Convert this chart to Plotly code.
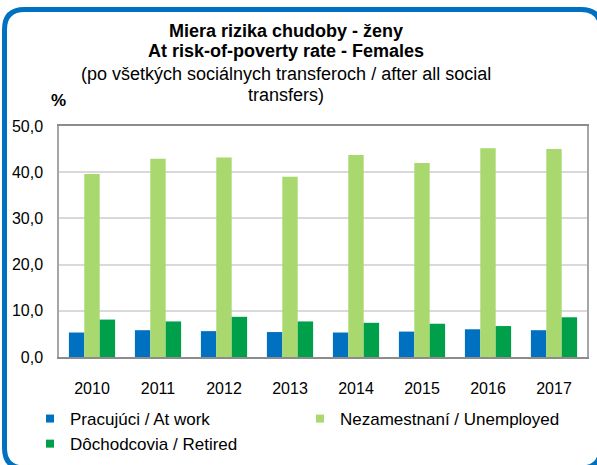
import plotly.graph_objects as go

years = ["2010", "2011", "2012", "2013", "2014", "2015", "2016", "2017"]
at_work = [5.3, 5.8, 5.6, 5.4, 5.3, 5.5, 6.0, 5.8]
unemployed = [39.6, 42.9, 43.2, 39.0, 43.7, 42.0, 45.2, 45.0]
retired = [8.1, 7.7, 8.7, 7.7, 7.4, 7.2, 6.7, 8.6]

names = ["Pracujúci / At work", "Nezamestnaní / Unemployed", "Dôchodcovia / Retired"]
colors = ["#0070C0", "#A9D86F", "#00A04A"]
series = [at_work, unemployed, retired]

W, H = 597, 465
L, R, T, B = 59, 10, 126, 108
PW, PH = W - L - R, H - T - B

def px(X):
    return (X - L) / PW

def py(Y):
    return (H - B - Y) / PH

FONT = "Tahoma, 'Liberation Sans', Arial, sans-serif"

fig = go.Figure()
for name, col, vals in zip(names, colors, series):
    fig.add_trace(go.Bar(x=years, y=vals, name=name, marker=dict(color=col, line=dict(width=0)),
                         showlegend=False))
    fig.add_trace(go.Scatter(x=[None], y=[None], mode="markers", name=name,
                             marker=dict(symbol="square", size=8, color=col)))

# rounded frame (pixel -> paper)
x0, y0, x1, y1, r = 4.5, 9.5, 601, 468, 20
path = (f"M {px(x0)},{py(y0 + r)} Q {px(x0)},{py(y0)} {px(x0 + r)},{py(y0)} "
        f"L {px(x1 - r)},{py(y0)} Q {px(x1)},{py(y0)} {px(x1)},{py(y0 + r)} "
        f"L {px(x1)},{py(y1 - r)} Q {px(x1)},{py(y1)} {px(x1 - r)},{py(y1)} "
        f"L {px(x0 + r)},{py(y1)} Q {px(x0)},{py(y1)} {px(x0)},{py(y1 - r)} Z")
fig.add_shape(type="path", path=path, xref="paper", yref="paper",
              line=dict(color="#0070C0", width=5), layer="above")

cx = px(286)
titles = [
    ("<b>Miera rizika chudoby - ženy</b>", 31),
    ("<b>At risk-of-poverty rate - Females</b>", 51),
    ("(po všetkých sociálnych transferoch / after all social", 74),
    ("transfers)", 95),
]
for txt, yy in titles:
    fig.add_annotation(text=txt, x=cx, y=py(yy), xref="paper", yref="paper",
                       xanchor="center", yanchor="middle", showarrow=False,
                       font=dict(size=18, color="#000000", family=FONT))
fig.add_annotation(text="<b>%</b>", x=px(58), y=py(100), xref="paper", yref="paper",
                   xanchor="center", yanchor="middle", showarrow=False,
                   font=dict(size=17, color="#000000", family=FONT))

fig.update_layout(
    width=W, height=H,
    margin=dict(l=L, r=R, t=T, b=B, autoexpand=False),
    paper_bgcolor="white", plot_bgcolor="white",
    separators=", ",
    bargap=0.30, bargroupgap=0,
    font=dict(family=FONT, size=16, color="#000000"),
    showlegend=True,
    legend=dict(orientation="h", x=px(30), y=py(401), xanchor="left", yanchor="top",
                entrywidth=225, entrywidthmode="pixels", tracegroupgap=0,
                font=dict(size=17, family=FONT, color="#000000"),
                bgcolor="rgba(0,0,0,0)", itemclick=False),
)
fig.update_xaxes(showline=True, mirror=True, linecolor="#8C8C8C", linewidth=1.5,
                 showgrid=False, ticks="", ticklabelstandoff=16,
                 tickfont=dict(size=16, family=FONT, color="#000000"))
fig.update_yaxes(range=[0, 50], dtick=10, tickformat=".1f", showline=True, mirror=True,
                 linecolor="#A6A6A6", linewidth=1.5, showgrid=True, gridcolor="#D9D9D9",
                 gridwidth=1.5, zeroline=False, ticks="", ticklabelstandoff=11,
                 tickfont=dict(size=16, family=FONT, color="#000000"))

fig.write_html("out.html", config={"displayModeBar": False},
               post_script="document.body.style.margin='0';document.body.style.overflow='hidden';")
